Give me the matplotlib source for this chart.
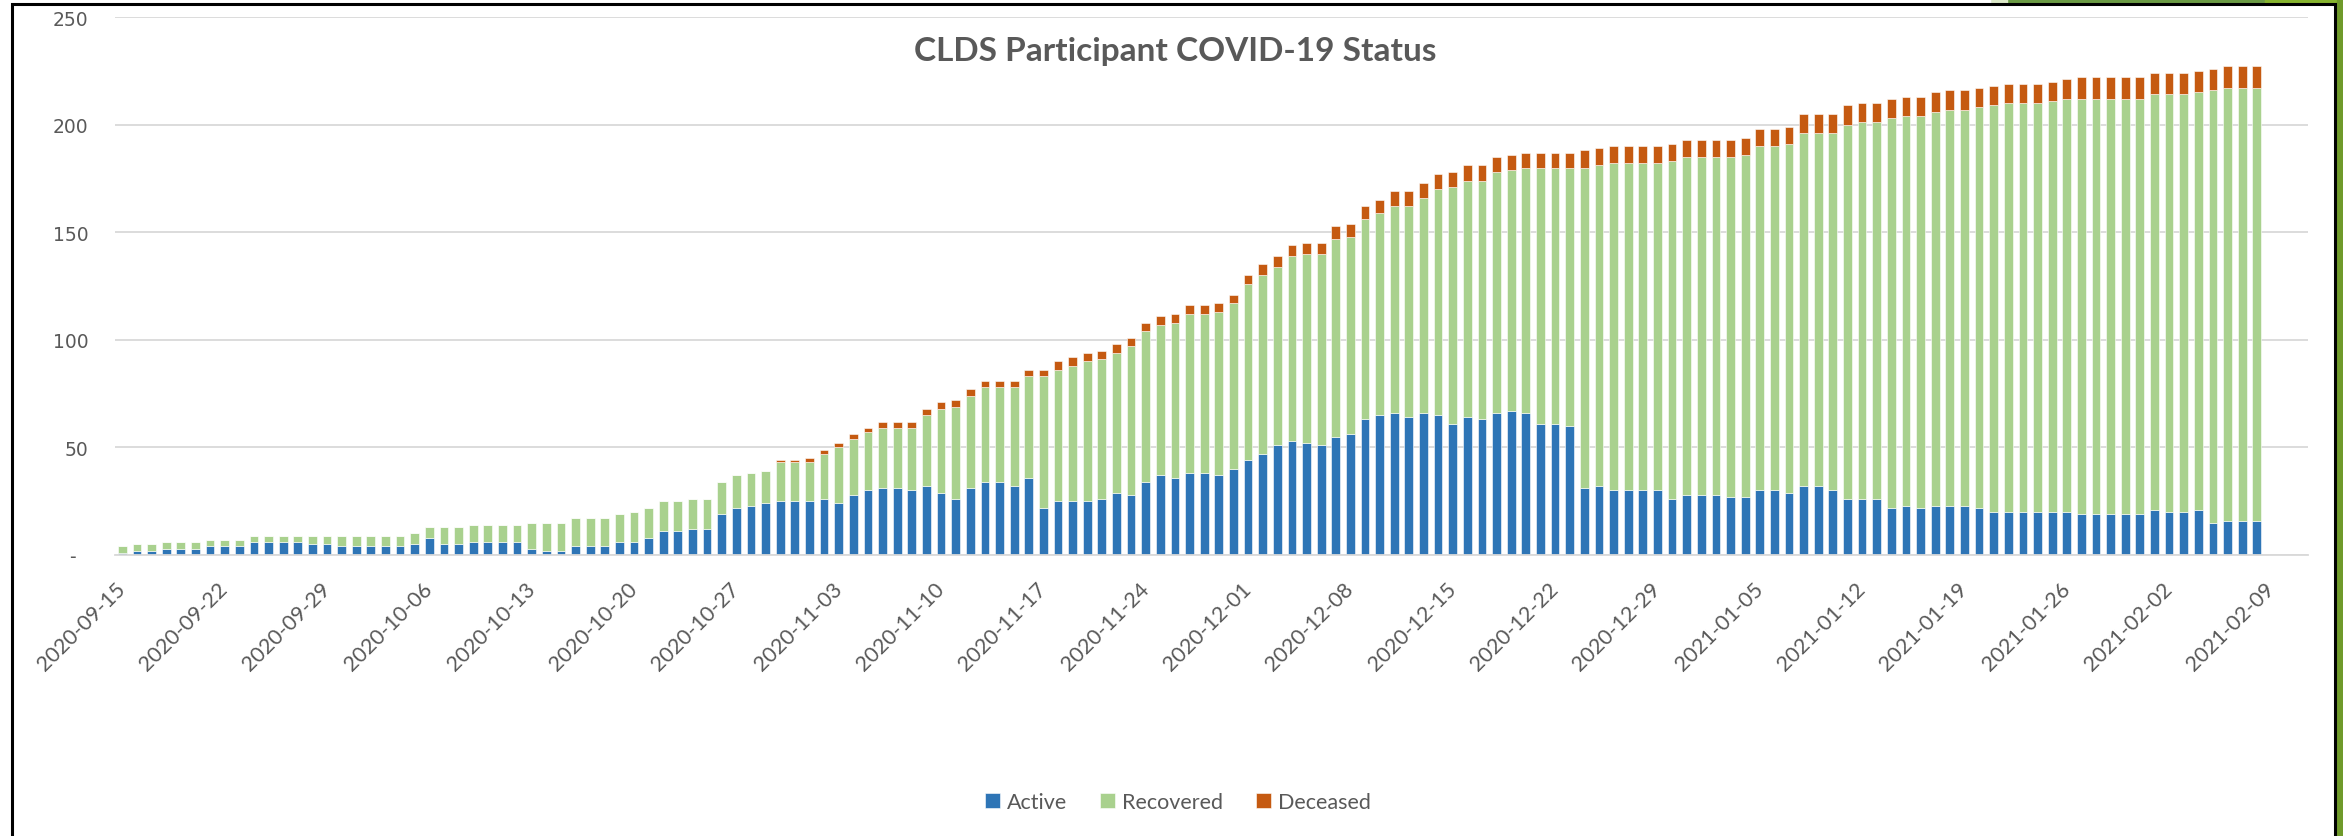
import matplotlib
matplotlib.use("Agg")
import matplotlib.pyplot as plt
from matplotlib.patches import Rectangle
import pandas as pd
import numpy as np

# daily counts, 2020-09-15 .. 2021-02-08 (02-09 has no bar)
active = [1, 2, 2, 3, 3, 3, 4, 4, 4, 6, 6, 6, 6, 5, 5, 4, 4, 4, 4, 4,
          5, 8, 5, 5, 6, 6, 6, 6, 3, 2, 2, 4, 4, 4, 6, 6, 8, 11, 11, 12,
          12, 19, 22, 23, 24, 25, 25, 25, 26, 24, 28, 30, 31, 31, 30, 32, 29, 26, 31, 34,
          34, 32, 36, 22, 25, 25, 25, 26, 29, 28, 34, 37, 36, 38, 38, 37, 40, 44, 47, 51,
          53, 52, 51, 55, 56, 63, 65, 66, 64, 66, 65, 61, 64, 63, 66, 67, 66, 61, 61, 60,
          31, 32, 30, 30, 30, 30, 26, 28, 28, 28, 27, 27, 30, 30, 29, 32, 32, 30, 26, 26,
          26, 22, 23, 22, 23, 23, 23, 22, 20, 20, 20, 20, 20, 20, 19, 19, 19, 19, 19, 21,
          20, 20, 21, 15, 16, 16, 16]
recovered = [3, 3, 3, 3, 3, 3, 3, 3, 3, 3, 3, 3, 3, 4, 4, 5, 5, 5, 5, 5,
             5, 5, 8, 8, 8, 8, 8, 8, 12, 13, 13, 13, 13, 13, 13, 14, 14, 14, 14, 14,
             14, 15, 15, 15, 15, 18, 18, 18, 21, 26, 26, 27, 28, 28, 29, 33, 39, 43, 43, 44,
             44, 46, 47, 61, 61, 63, 65, 65, 65, 69, 70, 70, 72, 74, 74, 76, 77, 82, 83, 83,
             86, 88, 89, 92, 92, 93, 94, 96, 98, 100, 105, 110, 110, 111, 112, 112, 114, 119, 119, 120,
             149, 149, 152, 152, 152, 152, 157, 157, 157, 157, 158, 159, 160, 160, 162, 164, 164, 166, 174, 175,
             175, 181, 181, 182, 183, 184, 184, 186, 189, 190, 190, 190, 191, 192, 193, 193, 193, 193, 193, 193,
             194, 194, 194, 201, 201, 201, 201]
deceased = [0] * 45 + [1, 1, 2, 2, 2, 2, 2, 3, 3, 3, 3, 3, 3, 3, 3, 3, 3, 3, 3,
                       4, 4, 4, 4, 4, 4, 4, 4, 4, 4, 4, 4, 4, 4, 5, 5, 5, 5, 5,
                       6, 6, 6, 6, 7, 7, 7, 7, 7, 7, 7, 7, 7, 7, 7, 7, 7,
                       8, 8, 8, 8, 8, 8, 8, 8, 8, 8, 8, 8, 8, 8, 8,
                       9, 9, 9, 9, 9, 9, 9, 9, 9, 9, 9, 9, 9, 9, 9, 9, 9, 9, 9,
                       10, 10, 10, 10, 10, 10, 10, 10, 10, 10, 10, 10, 10]

dates = pd.date_range("2020-09-15", periods=150, freq="D")
labels = ["Active", "Recovered", "Deceased"]
colors = ["#2E75B6", "#A9D18E", "#C55A11"]

W, H = 2343, 837
fig = plt.figure(figsize=(W / 100, H / 100), dpi=100)

# outer frame and the bits of green slide behind it
fig.patches.append(Rectangle((1992 / W, 1 - 4 / H), 351 / W, 4 / H, transform=fig.transFigure,
                             color="#6a9a44", zorder=0))
fig.patches.append(Rectangle((1992 / W, 1 - 4 / H), 15 / W, 4 / H, transform=fig.transFigure,
                             color="#dce9c8", zorder=0))
fig.patches.append(Rectangle((2265 / W, 1 - 4 / H), 78 / W, 4 / H, transform=fig.transFigure,
                             color="#86b32e", zorder=0))
fig.patches.append(Rectangle((2337 / W, 0), 6 / W, 1, transform=fig.transFigure,
                             color="#6f9a2a", zorder=0))
fig.patches.append(Rectangle((12 / W, -0.05), (2335 - 12) / W, 1 - 5 / H + 0.05, transform=fig.transFigure,
                             facecolor="none", edgecolor="black", linewidth=2.2, zorder=1))

ax = fig.add_axes([115 / W, 1 - 556 / H, (2308 - 115) / W, (556 - 18) / H])
x = np.arange(len(active))
a = np.array(active)
r = np.array(recovered)
d = np.array(deceased)
b1 = ax.bar(x, a, width=0.6, color=colors[0], edgecolor="white", linewidth=0.4, label=labels[0])
b2 = ax.bar(x, r, width=0.6, bottom=a, color=colors[1], edgecolor="white", linewidth=0.4, label=labels[1])
b3 = ax.bar(x, d, width=0.6, bottom=a + r, color=colors[2], edgecolor="white", linewidth=0.4, label=labels[2])

ax.set_xlim(-0.5, 149.5)
ax.set_ylim(0, 250)
ax.set_yticks([0, 50, 100, 150, 200, 250])
ax.set_yticklabels(["-  ", "50", "100", "150", "200", "250"], family="DejaVu Sans",
                   fontsize=13.5, color="#595959")
tick_pos = list(range(0, 148, 7))
ax.set_xticks(tick_pos)
ax.set_xticklabels([dates[i].strftime("%Y-%m-%d") for i in tick_pos], rotation=45,
                   ha="right", va="center", rotation_mode="anchor",
                   family="Lato", fontsize=15.5, color="#595959")
ax.tick_params(axis="y", length=0, pad=19)
ax.tick_params(axis="x", length=0, pad=22)
ax.grid(axis="y", color="#D9D9D9", linewidth=1.3)
ax.set_axisbelow(True)
for s in ["top", "right", "left"]:
    ax.spines[s].set_visible(False)
ax.spines["bottom"].set_color("#D9D9D9")
ax.spines["bottom"].set_linewidth(1.3)

fig.text(1175 / W, 1 - 51 / H, "CLDS Participant COVID-19 Status", ha="center", va="center",
         family="Lato", fontsize=24, fontweight="bold", color="#595959")

fig.legend(handles=[b1, b2, b3], loc="center", bbox_to_anchor=(1178 / W, 1 - 803 / H), ncol=3,
           frameon=False, handlelength=0.7, handleheight=0.7, handletextpad=0.35,
           columnspacing=1.5, prop={"family": "Lato", "size": 15.5}, labelcolor="#595959")

fig.savefig("out.png", dpi=100, facecolor="white")
